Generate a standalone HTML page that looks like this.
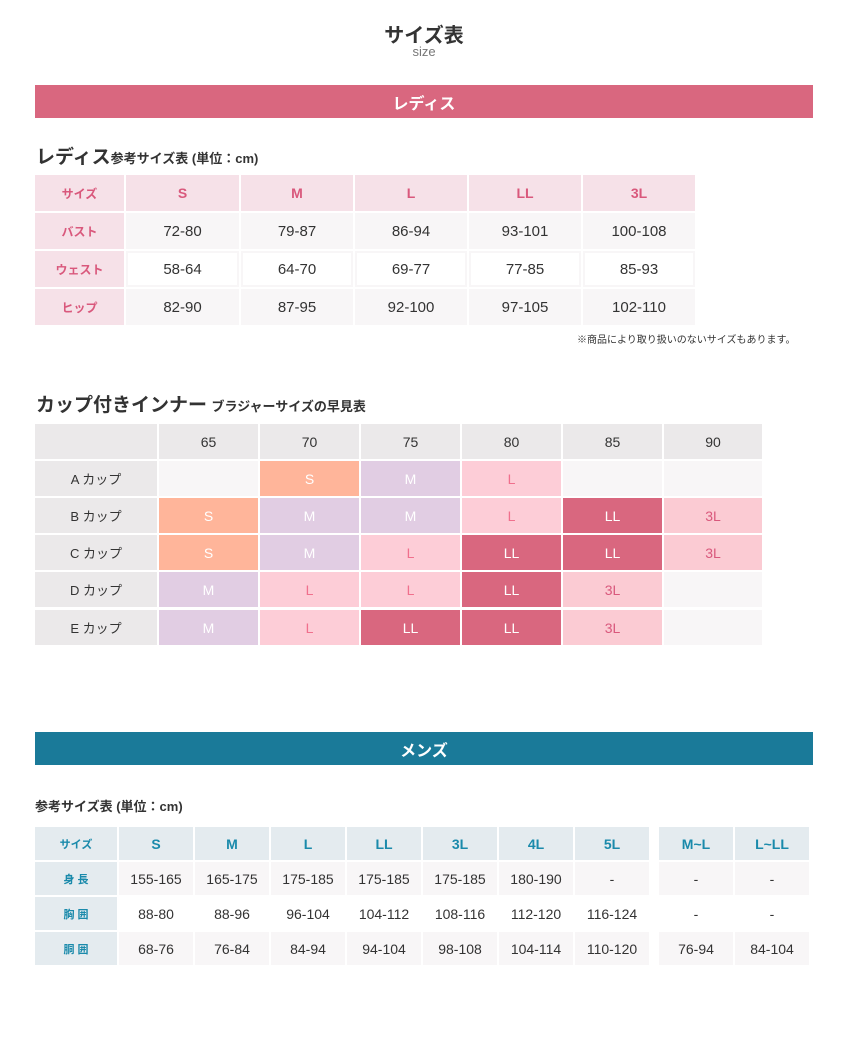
<!DOCTYPE html>
<html><head><meta charset="utf-8">
<style>
body{margin:0;width:848px;height:1038px;background:#fff;position:relative;overflow:hidden;font-family:"Liberation Sans","Noto Sans CJK JP",sans-serif;color:#333}
.a{position:absolute}
.c{position:absolute;display:flex;align-items:center;justify-content:center;font-size:14px;box-sizing:border-box}
.banner{position:absolute;left:35px;width:778px;height:33px;color:#fff;font-weight:bold;font-size:16px;display:flex;align-items:center;justify-content:center}
</style></head><body>
<div class="a" style="left:0;width:848px;top:19px;text-align:center;font-size:20px;font-weight:bold;color:#333">サイズ表</div>
<div class="a" style="left:0;width:848px;top:44px;text-align:center;font-size:13px;color:#777">size</div>
<div class="banner" style="top:85px;background:#d9677f">レディス</div>
<div class="a" style="left:36px;top:142px;font-weight:bold;white-space:nowrap"><span style="font-size:19px">レディス</span><span style="font-size:13px">参考サイズ表 (単位：cm)</span></div>
<div class="a" style="left:577px;top:331px;font-size:10px;white-space:nowrap">※商品により取り扱いのないサイズもあります。</div>
<div class="a" style="left:36px;top:390px;font-weight:bold;white-space:nowrap"><span style="font-size:19px">カップ付きインナー</span> <span style="font-size:13px">ブラジャーサイズの早見表</span></div>
<div class="banner" style="top:732px;background:#1a7a99">メンズ</div>
<div class="a" style="left:35px;top:796px;font-weight:bold;font-size:13px;white-space:nowrap">参考サイズ表 (単位：cm)</div>
<script>
const ladiesSizes=["S","M","L","LL","3L"];
const ladiesRows=["バスト","ウェスト","ヒップ"];
const ladiesVals=[["72-80","79-87","86-94","93-101","100-108"],["58-64","64-70","69-77","77-85","85-93"],["82-90","87-95","92-100","97-105","102-110"]];
const cupBands=["65","70","75","80","85","90"];
const cupRows=["A カップ","B カップ","C カップ","D カップ","E カップ"];
const cupVals=[["","S","M","L","",""],["S","M","M","L","LL","3L"],["S","M","L","LL","LL","3L"],["M","L","L","LL","3L",""],["M","L","LL","LL","3L",""]];
const menSizes=["S","M","L","LL","3L","4L","5L","M~L","L~LL"];
const menRows=["身 長","胸 囲","胴 囲"];
const menVals=[["155-165","165-175","175-185","175-185","175-185","180-190","-","-","-"],["88-80","88-96","96-104","104-112","108-116","112-120","116-124","-","-"],["68-76","76-84","84-94","94-104","98-108","104-114","110-120","76-94","84-104"]];

function mk(x,y,w,h,bg,txt,col,bold,fs){
  const d=document.createElement('div');
  d.className='c';
  d.style.cssText=`left:${x}px;top:${y}px;width:${w}px;height:${h}px;background:${bg};color:${col};font-weight:${bold?'bold':'normal'};font-size:${fs}px`;
  d.textContent=txt;
  document.body.appendChild(d);
  return d;
}
// Ladies
const lx=[35,126,241,355,469,583],lw=[89,113,112,112,112,112],ly=[175,213,251,289];
let e=mk(lx[0],ly[0],lw[0],36,'#f6e1e8','サイズ','#d9587c',true,12);


ladiesSizes.forEach((s,i)=>{
  const el=mk(lx[i+1],ly[0],lw[i+1],36,'#f6e1e8',s,'#d9587c',true,14);
  
  
});
ladiesRows.forEach((r,j)=>{
  const el=mk(lx[0],ly[j+1],lw[0],36,'#f6e1e8',r,'#d9587c',true,12);
  
  
  ladiesVals[j].forEach((v,i)=>{
    const c=mk(lx[i+1],ly[j+1],lw[i+1],36,j==1?'#fff':'#f8f6f7',v,'#333',false,15);
    if(j==1)c.style.boxShadow='inset 0 0 0 2px #f8f6f7';
    
    
  });
});
// Cup
const cx=[35,159,260,361,462,563,664],cw=[122,99,99,99,99,99,98],cy=[424,461,498,535,572,610];
const sty={"":['#f8f6f7','#333'],"S":['#ffb59a','#fff'],"M":['#e1cde3','#fff'],"L":['#fdcdd7','#f0708d'],"LL":['#d9677f','#fff'],"3L":['#fbcbd3','#d9587c']};
e=mk(cx[0],cy[0],cw[0],35,'#ebe9ea','','#333',false,14);


cupBands.forEach((b,i)=>{
  const el=mk(cx[i+1],cy[0],cw[i+1],35,'#ebe9ea',b,'#333',false,14);
  
  
});
cupRows.forEach((r,j)=>{
  const el=mk(cx[0],cy[j+1],cw[0],35,'#ebe9ea',r,'#333',false,13);
  
  
  cupVals[j].forEach((v,i)=>{
    const s=sty[v]||sty[""];
    const c=mk(cx[i+1],cy[j+1],cw[i+1],35,s[0],v,s[1],false,14);
    
    
  });
});
// Men
const mx=[35,119,195,271,347,423,499,575,659,735],mw=[82,74,74,74,74,74,74,74,74,74],my=[827,862,897,932];
e=mk(mx[0],my[0],mw[0],33,'#e4ebef','サイズ','#1a8aab',true,11);


menSizes.forEach((s,i)=>{
  const el=mk(mx[i+1],my[0],mw[i+1],33,'#e4ebef',s,'#1a8aab',true,14);
  
  
});
menRows.forEach((r,j)=>{
  const el=mk(mx[0],my[j+1],mw[0],33,'#e4ebef',r,'#1a8aab',true,11);
  
  
  menVals[j].forEach((v,i)=>{
    const c=mk(mx[i+1],my[j+1],mw[i+1],33,j==1?'#fff':'#f8f6f7',v,'#333',false,14);
    
    
  });
});
</script>
</body></html>
